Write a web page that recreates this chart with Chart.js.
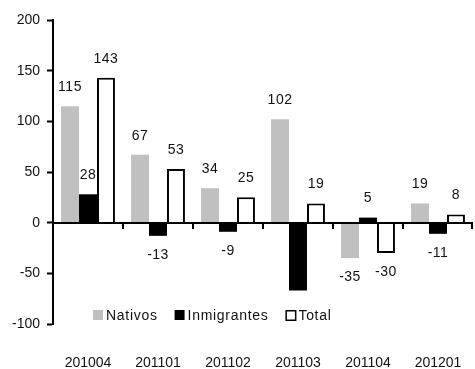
<!DOCTYPE html>
<html>
<head>
<meta charset="utf-8">
<script src="https://cdn.jsdelivr.net/npm/chart.js@4"></script>
<style>
  html, body { margin: 0; padding: 0; background: #fff; overflow: hidden; }
  canvas { display: block; }
</style>
</head>
<body>
<canvas id="grafico" width="475" height="369"></canvas>
<script>
const periodos = ["201004", "201101", "201102", "201103", "201104", "201201"];
const nativos = [115, 67, 34, 102, -35, 19];
const inmigrantes = [28, -13, -9, -67, 5, -11];
const total = [143, 53, 25, 19, -30, 8];
const ticksY = [-100, -50, 0, 50, 100, 150, 200];
// etiquetas que no se pintan: [dataset, indice]
const sinEtiqueta = [[1, 3]];

const FUENTE = "'Liberation Sans', Arial, sans-serif";

// linea del cero con marcas entre periodos, etiquetas de valor y leyenda dentro del area
const extras = {
  id: 'extras',
  afterDatasetsDraw(chart) {
    const ctx = chart.ctx, x = chart.scales.x, y = chart.scales.y, area = chart.chartArea;
    const y0 = Math.round(y.getPixelForValue(0));
    const paso = x.getPixelForValue(1) - x.getPixelForValue(0);
    ctx.save();
    ctx.strokeStyle = '#000'; ctx.lineWidth = 2;
    ctx.beginPath(); ctx.moveTo(area.left, y0); ctx.lineTo(area.right, y0); ctx.stroke();
    for (let i = 1; i <= periodos.length; i++) {
      const px = Math.min(Math.round(x.getPixelForValue(i - 1) + paso / 2), area.right - 1);
      ctx.beginPath(); ctx.moveTo(px, y0); ctx.lineTo(px, y0 + 6); ctx.stroke();
    }

    ctx.font = '14px ' + FUENTE; ctx.fillStyle = '#111';
    ctx.letterSpacing = '0.5px';
    ctx.textAlign = 'center'; ctx.textBaseline = 'middle';
    chart.data.datasets.forEach((ds, d) => {
      chart.getDatasetMeta(d).data.forEach((bar, i) => {
        if (sinEtiqueta.some(s => s[0] === d && s[1] === i)) return;
        const v = ds.data[i];
        const ty = v >= 0 ? Math.min(bar.y, bar.base) - 19 : Math.max(bar.y, bar.base) + 19;
        ctx.fillText(String(v), bar.x, ty);
      });
    });

    // leyenda
    let lx = area.left + 40;
    const ly = area.bottom - 9;
    ctx.textAlign = 'left';
    ctx.letterSpacing = '0.7px';
    chart.data.datasets.forEach(ds => {
      ctx.fillStyle = ds.backgroundColor;
      ctx.fillRect(lx, ly - 5, 10, 10);
      if (ds.borderWidth) {
        ctx.strokeStyle = '#000'; ctx.lineWidth = 1.5;
        ctx.strokeRect(lx + 0.75, ly - 4.25, 9.5, 9.5);
      }
      ctx.fillStyle = '#111';
      ctx.fillText(ds.label, lx + 13, ly + 1);
      lx += 13 + ctx.measureText(ds.label).width + 17;
    });
    ctx.restore();
  }
};

new Chart(document.getElementById('grafico'), {
  type: 'bar',
  data: {
    labels: periodos,
    datasets: [
      { label: 'Nativos', data: nativos, backgroundColor: '#c0c0c0', borderWidth: 0 },
      { label: 'Inmigrantes', data: inmigrantes, backgroundColor: '#000000', borderWidth: 0 },
      { label: 'Total', data: total, backgroundColor: '#ffffff', borderColor: '#000000', borderWidth: 2 }
    ]
  },
  options: {
    responsive: false,
    animation: false,
    devicePixelRatio: 1,
    layout: { padding: { left: 12, right: 2, top: 20, bottom: 0 } },
    datasets: { bar: { categoryPercentage: 0.77, barPercentage: 1 } },
    plugins: { legend: { display: false }, tooltip: { enabled: false } },
    scales: {
      x: {
        grid: { display: false, drawTicks: false },
        border: { display: false },
        ticks: { color: '#111', padding: 32, font: { family: FUENTE, size: 14, lineHeight: 1 }, maxRotation: 0 },
        afterFit: s => { s.height = 45; s.paddingLeft = 0; s.paddingRight = 0; }
      },
      y: {
        min: -100, max: 200,
        afterBuildTicks: s => { s.ticks = ticksY.map(v => ({ value: v })); },
        grid: { drawOnChartArea: false, drawTicks: true, tickLength: 6, color: '#000', tickWidth: 2 },
        border: { display: true, color: '#000', width: 2 },
        ticks: { color: '#111', padding: 7, font: { family: FUENTE, size: 14 } },
        afterFit: s => { s.width = 41; s.paddingTop = 0; s.paddingBottom = 0; }
      }
    }
  },
  plugins: [extras]
});
</script>
</body>
</html>
